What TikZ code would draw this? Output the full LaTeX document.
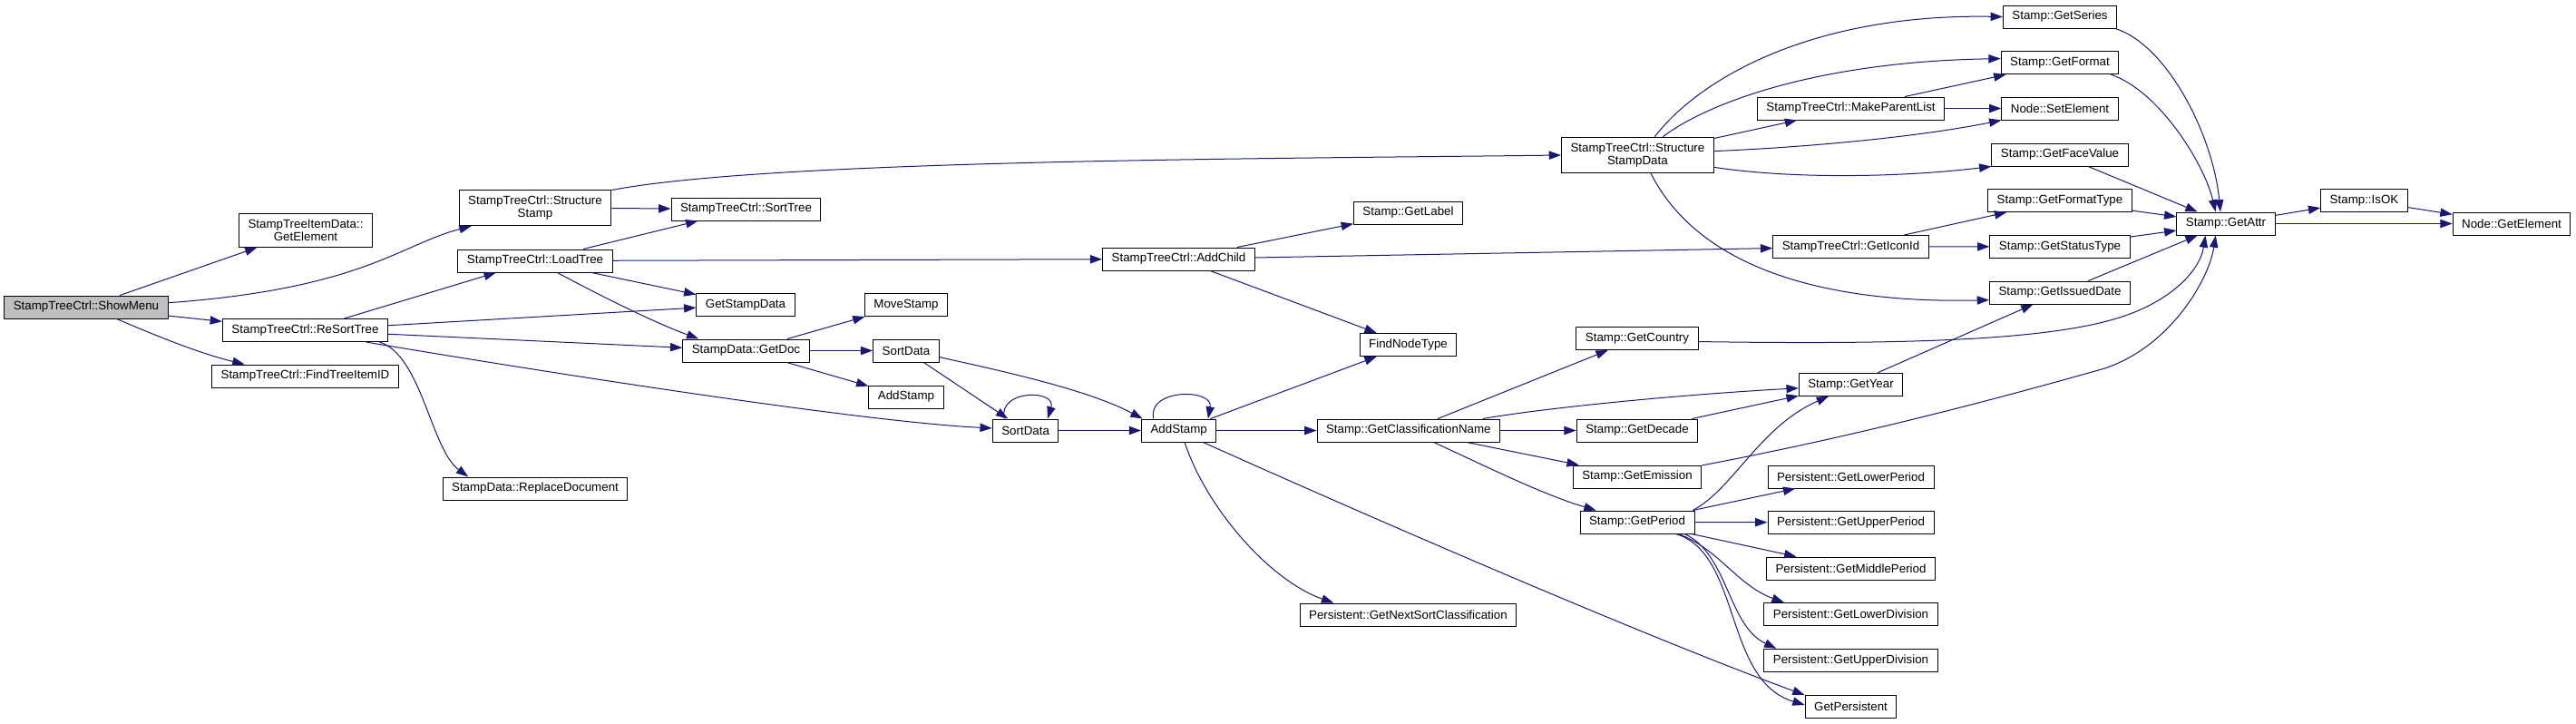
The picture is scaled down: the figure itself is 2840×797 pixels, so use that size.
\documentclass[tikz,border=0pt]{standalone}
\usepackage{fontspec}
\setmainfont{Liberation Sans}
\usetikzlibrary{arrows.meta}
\definecolor{edgeblue}{RGB}{25,25,112}
\definecolor{rootgray}{RGB}{191,191,191}
\tikzset{every picture/.style={line width=0.75pt}}
\tikzset{
  fnbox/.style={draw=black, rectangle, fill=white, inner xsep=7.5pt, inner ysep=4.6pt,
    minimum height=18.75pt, align=center, font=\fontsize{10}{11}\selectfont},
  rootbox/.style={fnbox, fill=rootgray},
  callarrow/.style={draw=edgeblue, -{Triangle[length=10pt,width=7pt]}}
}

\begin{document}
\begin{tikzpicture}[x=0.75pt,y=0.75pt,yscale=-1]
\useasboundingbox (0,0) rectangle (2840,797);

%Boxes: first columns
\node[rootbox] (showmenu) at (95,338.5) {StampTreeCtrl::ShowMenu};
\node[fnbox] (itemget) at (337,254) {StampTreeItemData::\\GetElement};
\node[fnbox] (resort) at (336.5,364) {StampTreeCtrl::ReSortTree};
\node[fnbox] (findid) at (336.5,414.5) {StampTreeCtrl::FindTreeItemID};
\node[fnbox] (sstamp) at (590,229) {StampTreeCtrl::Structure\\Stamp};
\node[fnbox] (loadtree) at (590,287.5) {StampTreeCtrl::LoadTree};
\node[fnbox] (repl) at (590,538.5) {StampData::ReplaceDocument};
\node[fnbox] (sorttree) at (822.5,230.5) {StampTreeCtrl::SortTree};
\node[fnbox] (getsd) at (822,336) {GetStampData};
\node[fnbox] (getdoc) at (822.5,386.5) {StampData::GetDoc};
%Boxes: middle columns
\node[fnbox] (movestamp) at (999,336) {MoveStamp};
\node[fnbox] (sortA) at (999,386.5) {SortData};
\node[fnbox] (addA) at (999,437.5) {AddStamp};
\node[fnbox] (sortB) at (1130.6,474.5) {SortData};
\node[fnbox] (addchild) at (1299.5,285.5) {StampTreeCtrl::AddChild};
\node[fnbox] (addB) at (1299.7,474.5) {AddStamp};
\node[fnbox] (getlabel) at (1552.5,234.5) {Stamp::GetLabel};
\node[fnbox] (findnt) at (1552.5,380) {FindNodeType};
\node[fnbox] (classname) at (1552.8,474.5) {Stamp::GetClassificationName};
\node[fnbox] (nextsort) at (1552.4,677.5) {Persistent::GetNextSortClassification};
\node[fnbox] (ssdata) at (1805.4,171) {StampTreeCtrl::Structure\\StampData};
\node[fnbox] (country) at (1805,373) {Stamp::GetCountry};
\node[fnbox] (decade) at (1805,474.5) {Stamp::GetDecade};
\node[fnbox] (emission) at (1805,525.5) {Stamp::GetEmission};
\node[fnbox] (period) at (1805,575.5) {Stamp::GetPeriod};
%Boxes: right columns
\node[fnbox] (mkparent) at (2040.5,119.5) {StampTreeCtrl::MakeParentList};
\node[fnbox] (iconid) at (2040.5,272) {StampTreeCtrl::GetIconId};
\node[fnbox] (getyear) at (2040.5,423.8) {Stamp::GetYear};
\node[fnbox] (lowper) at (2040.5,525.5) {Persistent::GetLowerPeriod};
\node[fnbox] (upper) at (2040.5,575.8) {Persistent::GetUpperPeriod};
\node[fnbox] (midper) at (2040.5,626.5) {Persistent::GetMiddlePeriod};
\node[fnbox] (lowdiv) at (2040.5,677) {Persistent::GetLowerDivision};
\node[fnbox] (updiv) at (2040.5,727.7) {Persistent::GetUpperDivision};
\node[fnbox] (getpers) at (2040.5,778.7) {GetPersistent};
\node[fnbox] (series) at (2271,18.5) {Stamp::GetSeries};
\node[fnbox] (format) at (2271,69.2) {Stamp::GetFormat};
\node[fnbox] (setel) at (2271,119.5) {Node::SetElement};
\node[fnbox] (face) at (2271,170.5) {Stamp::GetFaceValue};
\node[fnbox] (ftype) at (2271,221) {Stamp::GetFormatType};
\node[fnbox] (stype) at (2271,271.8) {Stamp::GetStatusType};
\node[fnbox] (issued) at (2271,322.5) {Stamp::GetIssuedDate};
\node[fnbox] (getattr) at (2454,246.5) {Stamp::GetAttr};
\node[fnbox] (isok) at (2606.5,221) {Stamp::IsOK};
\node[fnbox] (nodeget) at (2769,246.5) {Node::GetElement};

%Edges: ShowMenu
\draw[callarrow] (showmenu) -- (itemget);
\draw[callarrow] (showmenu.3.5) .. controls (400,318) and (440,270) .. (sstamp.-164);
\draw[callarrow] (showmenu) -- (resort);
\draw[callarrow] (showmenu.-21) .. controls (190,378) and (230,392) .. (findid.169);
%Edges: StructureStamp
\draw[callarrow] (sstamp) -- (sorttree);
\draw[callarrow] (sstamp.13) .. controls (850,176) and (1400,175) .. (ssdata.west);
%Edges: ReSortTree
\draw[callarrow] (resort) -- (loadtree);
\draw[callarrow] (resort) -- (getsd);
\draw[callarrow] (resort) -- (getdoc);
\draw[callarrow] (resort.-11) .. controls (600,410) and (950,465) .. (sortB.176);
\draw[callarrow] (resort.-9) .. controls (465,392) and (475,495) .. (repl.170);
%Edges: LoadTree
\draw[callarrow] (loadtree) -- (sorttree);
\draw[callarrow] (loadtree) -- (addchild);
\draw[callarrow] (loadtree) -- (getsd);
\draw[callarrow] (loadtree.-28) .. controls (660,325) and (720,355) .. (getdoc.166);
%Edges: GetDoc
\draw[callarrow] (getdoc) -- (movestamp);
\draw[callarrow] (getdoc) -- (sortA);
\draw[callarrow] (getdoc) -- (addA);
%Edges: SortData
\draw[callarrow] (sortA) -- (sortB);
\draw[callarrow] (sortA.-11.5) .. controls (1110,410) and (1200,430) .. (addB.162);
\draw[callarrow] (sortB.151) .. controls (1100,429) and (1165,429) .. (sortB.28);
\draw[callarrow] (sortB) -- (addB);
%Edges: AddStamp
\draw[callarrow] (addB.155) .. controls (1264,428) and (1338,428) .. (addB.22);
\draw[callarrow] (addB) -- (findnt);
\draw[callarrow] (addB) -- (classname);
\draw[callarrow] (addB.-64) .. controls (1330,560) and (1400,640) .. (nextsort.171.6);
\draw[callarrow] (addB.-26) .. controls (1600,610) and (1850,715) .. (getpers.166);
%Edges: AddChild
\draw[callarrow] (addchild) -- (getlabel);
\draw[callarrow] (addchild) -- (iconid);
\draw[callarrow] (addchild) -- (findnt);
%Edges: GetClassificationName
\draw[callarrow] (classname) -- (country);
\draw[callarrow] (classname.9.3) .. controls (1700,450) and (1850,435) .. (getyear.184);
\draw[callarrow] (classname) -- (decade);
\draw[callarrow] (classname) -- (emission);
\draw[callarrow] (classname.-25.7) .. controls (1630,510) and (1700,545) .. (period.164.5);
%Edges: GetDecade, GetEmission, GetCountry
\draw[callarrow] (decade) -- (getyear);
\draw[callarrow] (emission.10.6) .. controls (2050,480) and (2200,440) .. (2317,407) .. controls (2390,385) and (2435,310) .. (getattr.-131);
\draw[callarrow] (country.-3) .. controls (2100,380) and (2250,375) .. (2330,352) .. controls (2390,335) and (2425,300) .. (getattr.-150);
%Edges: GetYear, GetPeriod
\draw[callarrow] (getyear) -- (issued);
\draw[callarrow] (period.12.4) .. controls (1910,540) and (1940,470) .. (getyear.-152);
\draw[callarrow] (period) -- (lowper);
\draw[callarrow] (period) -- (upper);
\draw[callarrow] (period) -- (midper);
\draw[callarrow] (period.-16) .. controls (1895,605) and (1915,645) .. (lowdiv.170);
\draw[callarrow] (period.-14) .. controls (1905,610) and (1905,690) .. (updiv.171.5);
\draw[callarrow] (period.-17) .. controls (1920,610) and (1900,750) .. (getpers.178);
%Edges: StructureStampData
\draw[callarrow] (ssdata.47) .. controls (1875,85) and (2000,15) .. (series.west);
\draw[callarrow] (ssdata.36) .. controls (1880,115) and (2000,68) .. (format.176);
\draw[callarrow] (ssdata) -- (mkparent);
\draw[callarrow] (ssdata.3) .. controls (2000,162) and (2120,150) .. (setel.south west);
\draw[callarrow] (ssdata.-9) .. controls (1980,198) and (2100,195) .. (face.south west);
\draw[callarrow] (ssdata.-54) .. controls (1870,290) and (2000,335) .. (issued.-174);
%Edges: MakeParentList, GetIconId
\draw[callarrow] (mkparent) -- (format);
\draw[callarrow] (mkparent) -- (setel);
\draw[callarrow] (iconid) -- (ftype);
\draw[callarrow] (iconid) -- (stype);
%Edges: into GetAttr and on
\draw[callarrow] (series.-12) .. controls (2390,50) and (2440,150) .. (getattr.115);
\draw[callarrow] (format.-13) .. controls (2380,100) and (2430,180) .. (getattr.131);
\draw[callarrow] (face) -- (getattr);
\draw[callarrow] (ftype) -- (getattr);
\draw[callarrow] (stype) -- (getattr);
\draw[callarrow] (issued) -- (getattr);
\draw[callarrow] (getattr) -- (isok);
\draw[callarrow] (getattr) -- (nodeget);
\draw[callarrow] (isok) -- (nodeget);

\end{tikzpicture}
\end{document}
